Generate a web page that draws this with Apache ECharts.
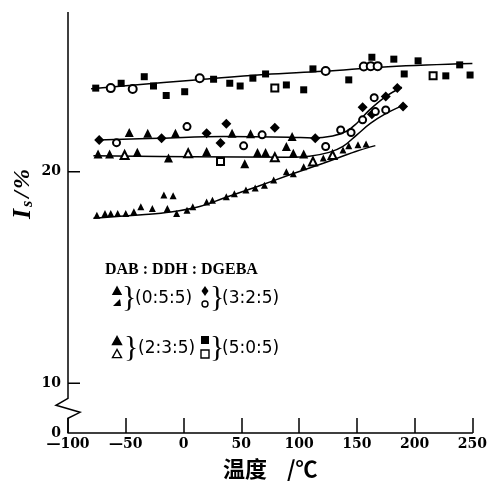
<!DOCTYPE html>
<html>
<head>
<meta charset="utf-8">
<script src="https://cdn.jsdelivr.net/npm/echarts@6/dist/echarts.min.js"></script>
<style>
html, body { margin: 0; padding: 0; background: #fff; }
#main { width: 490px; height: 489px; }
</style>
</head>
<body>
<div id="main"></div>
<script>
// 温度 (℃) vs I_s (%)

// fitted curves
var fit505 = [[-80, 23.93], [13, 24.36], [70, 24.61], [121, 24.76], [177, 24.97], [250, 25.12]];
var fit325 = [[-74, 21.51], [-21, 21.59], [35, 21.67], [92, 21.64], [112, 21.6], [129, 21.7], [141, 21.92], [150, 22.3], [161, 22.93], [175, 23.56], [189, 24.0]];
var fit235 = [[-78, 20.76], [7, 20.72], [92, 20.69], [109, 20.74], [126, 20.92], [138, 21.2], [150, 21.75], [162, 22.3], [175, 22.75], [189, 23.12]];
var fit055 = [[-78, 17.81], [-36, 17.97], [-11, 18.1], [14, 18.36], [35, 18.76], [64, 19.31], [92, 19.86], [121, 20.41], [149, 20.96], [166, 21.24]];

// 5:0:5
var sq505Filled = [[-76, 23.96], [-54, 24.19], [-34, 24.5], [-26, 24.06], [-15, 23.61], [1, 23.79], [26, 24.38], [40, 24.19], [49, 24.06], [60, 24.43], [71, 24.63], [89, 24.11], [104, 23.88], [112, 24.87], [143, 24.35], [163, 25.42], [182, 25.33], [191, 24.63], [203, 25.25], [227, 24.54], [239, 25.06], [248, 24.58]];
var circ505Open = [[-63, 23.96], [-44, 23.92], [14, 24.43], [123, 24.77], [156, 24.98], [162, 25.0], [168, 25.0]];
var sq505Open = [[79, 23.96], [216, 24.54], [32, 20.49]];

// 3:2:5
var dia325Filled = [[-73, 21.51], [-19, 21.59], [20, 21.83], [37, 22.27], [32, 21.36], [79, 22.09], [114, 21.59], [155, 23.06], [163, 22.73], [175, 23.56], [185, 23.96], [190, 23.09]];
var dia325Open = [[-58, 21.38], [3, 22.14], [68, 21.75], [52, 21.23], [123, 21.2], [136, 21.98], [145, 21.86], [155, 22.46], [165, 23.51], [166, 22.85], [175, 22.93]];

// 2:3:5
var tri235Filled = [[-74, 20.85], [-64, 20.85], [-40, 20.93], [-13, 20.65], [20, 20.96], [53, 20.38], [64, 20.91], [71, 20.91], [89, 21.2], [95, 20.88], [104, 20.85], [-47, 21.86], [-31, 21.83], [-7, 21.83], [42, 21.83], [58, 21.8], [94, 21.67]];
var tri235Open = [[-51, 20.8], [4, 20.88], [79, 20.69], [112, 20.49], [129, 20.8]];

// 0:5:5
var tri055 = [[-75, 17.95], [-68, 18.03], [-63, 18.03], [-57, 18.03], [-50, 18.03], [-43, 18.11], [-37, 18.35], [-27, 18.27], [-17, 18.9], [-9, 18.87], [-14, 18.27], [-6, 18.03], [3, 18.19], [8, 18.35], [20, 18.58], [25, 18.66], [37, 18.82], [44, 18.97], [54, 19.14], [62, 19.24], [70, 19.37], [78, 19.61], [89, 20.0], [95, 19.91], [104, 20.24], [121, 20.66], [138, 21.03], [143, 21.23], [151, 21.28], [158, 21.32]];

var yMin = 7.65, yMax = 27.56;
var yTicks = [20, 10];
var yLabels = [yMin, 10, 20];

function fitLine(data) {
	return {
		type: 'line', data: data, smooth: 0.4, symbol: 'none',
		lineStyle: { color: '#000', width: 1.5 }, z: 2, silent: true
	};
}
function marks(data, symbol, size) {
	var empty = symbol.indexOf('empty') === 0;
	return {
		type: 'scatter', data: data, symbol: symbol, symbolSize: size,
		itemStyle: { color: '#000', borderWidth: empty ? 1.5 : 0, opacity: 1 },
		z: 3
	};
}

var myChart = echarts.init(document.getElementById('main'));
var option = {
	animation: false,
	grid: { left: 68, right: 12, top: 12, bottom: 56 },
	xAxis: {
		type: 'value', min: -100, max: 250, interval: 50,
		name: '温度    /℃', nameLocation: 'middle', nameGap: 25,
		nameTextStyle: { color: '#000', fontSize: 22, fontWeight: 'bold', fontFamily: 'Noto Sans CJK SC' },
		axisLine: { onZero: false, lineStyle: { color: '#000', width: 1.5 } },
		axisTick: { inside: true, length: 15, lineStyle: { color: '#000', width: 1.5 } },
		axisLabel: {
			color: '#000', fontSize: 14, fontWeight: 'bold', fontFamily: 'DejaVu Serif', margin: 4,
			formatter: function (v) { return v < 0 ? '—' + Math.abs(v) : String(v); }
		},
		splitLine: { show: false }
	},
	yAxis: {
		type: 'value', min: yMin, max: yMax,
		axisLine: { show: false, onZero: false },
		axisTick: { show: false },
		axisLabel: {
			color: '#000', fontSize: 14, fontWeight: 'bold', fontFamily: 'DejaVu Serif', margin: 7,
			customValues: yLabels,
			formatter: function (v) { return v < 9 ? '0' : String(v); }
		},
		splitLine: { show: false }
	},
	series: [
		fitLine(fit505), fitLine(fit325), fitLine(fit235), fitLine(fit055),
		marks(sq505Filled, 'rect', 7),
		marks(circ505Open, 'emptyCircle', 8),
		marks(sq505Open, 'emptyRect', 7),
		marks(dia325Filled, 'diamond', 10),
		marks(dia325Open, 'emptyCircle', 7),
		marks(tri235Filled, 'triangle', 9),
		marks(tri235Open, 'emptyTriangle', 8),
		marks(tri055, 'triangle', 7)
	]
};
myChart.setOption(option);

// y axis drawn as one path: ticks at yTicks, break below 10
function px(x, y) { return myChart.convertToPixel({ gridIndex: 0 }, [x, y]); }
var pTop = px(-100, yMax), pBot = px(-100, yMin), p10 = px(-100, 10);
var ax = pTop[0];
var axisPts = [[ax, pTop[1]]];
yTicks.forEach(function (v) {
	var p = px(-100, v);
	axisPts.push([ax, p[1]], [ax + 12, p[1]], [ax, p[1]]);
});
axisPts.push([ax, p10[1] + 15], [ax - 12, p10[1] + 22], [ax + 12, p10[1] + 29], [ax, p10[1] + 35], [ax, pBot[1]]);

function tri(cx, cy, s, filled) {
	return {
		type: 'polygon', shape: { points: [[cx, cy - s], [cx - s, cy + s * 0.8], [cx + s, cy + s * 0.8]] },
		style: { fill: filled ? '#000' : '#fff', stroke: '#000', lineWidth: 1.4 }
	};
}
function txt(x, y, s, size, font, extra) {
	var st = { text: s, fill: '#000', font: (extra || '') + ' ' + size + 'px "' + font + '"', textVerticalAlign: 'middle' };
	return { type: 'text', x: x, y: y, style: st };
}

myChart.setOption({
	graphic: [
		{ type: 'polyline', z: 11, shape: { points: axisPts }, style: { stroke: '#000', lineWidth: 1.5, fill: null } },
		{
			type: 'text', x: 23, y: 194, rotation: Math.PI / 2,
			style: {
				text: '{i|I}{s|s}{n|/}{p|%}', fill: '#000', align: 'center', verticalAlign: 'middle',
				rich: {
					i: { fontFamily: 'Liberation Serif', fontStyle: 'italic', fontWeight: 'bold', fontSize: 26, padding: [0, 2, 0, 0] },
					s: { fontFamily: 'Liberation Serif', fontStyle: 'italic', fontWeight: 'bold', fontSize: 16, padding: [10, 3, 0, 0] },
					n: { fontFamily: 'Liberation Serif', fontStyle: 'italic', fontWeight: 'bold', fontSize: 24, padding: [0, 2, 0, 0] },
					p: { fontFamily: 'Liberation Serif', fontStyle: 'italic', fontWeight: 'bold', fontSize: 24 }
				}
			}
		},
		txt(105, 270, 'DAB : DDH : DGEBA', 16, 'Liberation Serif', 'bold'),
		// row 2
		tri(117, 291, 4, true),
		{ type: 'polygon', shape: { points: [[120, 299], [113, 306], [121, 306]] }, style: { fill: '#000' } },
		txt(122, 298, '}', 30, 'Liberation Serif'),
		txt(135, 299, '(0:5:5)', 17, 'DejaVu Sans'),
		{ type: 'polygon', shape: { points: [[205, 286], [208.5, 291], [205, 296], [201.5, 291]] }, style: { fill: '#000' } },
		{ type: 'circle', shape: { cx: 205, cy: 304, r: 3 }, style: { fill: '#fff', stroke: '#000', lineWidth: 1.4 } },
		txt(210, 298, '}', 30, 'Liberation Serif'),
		txt(222, 299, '(3:2:5)', 17, 'DejaVu Sans'),
		// row 3
		tri(117, 341, 4.5, true),
		tri(117, 354, 4.5, false),
		txt(124, 348, '}', 30, 'Liberation Serif'),
		txt(138, 349, '(2:3:5)', 17, 'DejaVu Sans'),
		{ type: 'rect', shape: { x: 201, y: 336, width: 8, height: 8 }, style: { fill: '#000' } },
		{ type: 'rect', shape: { x: 201, y: 350, width: 8, height: 8 }, style: { fill: '#fff', stroke: '#000', lineWidth: 1.4 } },
		txt(210, 348, '}', 30, 'Liberation Serif'),
		txt(222, 349, '(5:0:5)', 17, 'DejaVu Sans')
	]
});
</script>
</body>
</html>
